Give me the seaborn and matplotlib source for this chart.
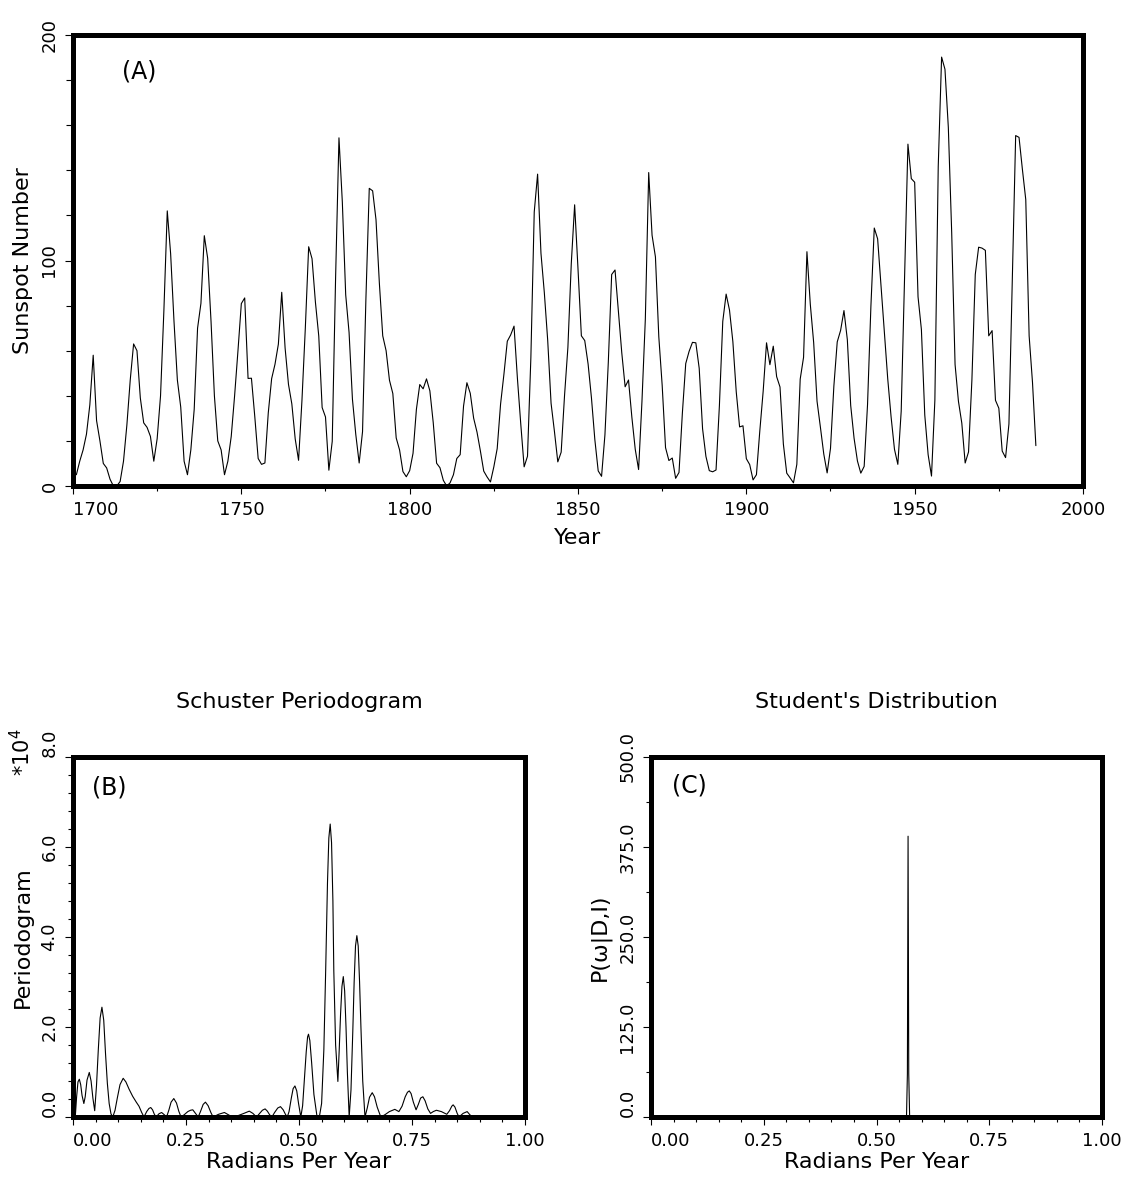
import numpy as np
import pandas as pd
import matplotlib
matplotlib.use('Agg')
import matplotlib.pyplot as plt
import seaborn as sns
from matplotlib.ticker import MultipleLocator, FormatStrFormatter


# (A) yearly sunspot numbers, as drawn (first point sits at 1701, last at 1986)
FIRST_YEAR = 1701
sunspot_number = [
    5, 11, 16, 23, 36, 58, 29, 20, 10, 8,
    3, 0, 0, 2, 11, 27, 47, 63, 60, 39,
    28, 26, 22, 11, 21, 40, 78, 122, 103, 73,
    47, 35, 11, 5, 16, 34, 70, 81, 111, 101,
    73, 40, 20, 16, 5, 11, 22, 40, 60, 80.9,
    83.4, 47.7, 47.8, 30.7, 12.2, 9.6, 10.2, 32.4, 47.6, 54,
    62.9, 85.9, 61.2, 45.1, 36.4, 20.9, 11.4, 37.8, 69.8, 106.1,
    100.8, 81.6, 66.5, 34.8, 30.6, 7, 19.8, 92.5, 154.4, 125.9,
    84.8, 68.1, 38.5, 22.8, 10.2, 24.1, 82.9, 132, 130.9, 118.1,
    89.9, 66.6, 60, 46.9, 41, 21.3, 16, 6.4, 4.1, 6.8,
    14.5, 34, 45, 43.1, 47.5, 42.2, 28.1, 10.1, 8.1, 2.5,
    0, 1.4, 5, 12.2, 13.9, 35.4, 45.8, 41.1, 30.1, 23.9,
    15.6, 6.6, 4, 1.8, 8.5, 16.6, 36.3, 49.6, 64.2, 67,
    70.9, 47.8, 27.5, 8.5, 13.2, 56.9, 121.5, 138.3, 103.2, 85.7,
    64.6, 36.7, 24.2, 10.7, 15, 40.1, 61.5, 98.5, 124.7, 96.3,
    66.6, 64.5, 54.1, 39, 20.6, 6.7, 4.3, 22.7, 54.8, 93.8,
    95.8, 77.2, 59.1, 44, 47, 30.5, 16.3, 7.3, 37.6, 74,
    139, 111.2, 101.6, 66.2, 44.7, 17, 11.3, 12.4, 3.4, 6,
    32.3, 54.3, 59.7, 63.7, 63.5, 52.2, 25.4, 13.1, 6.8, 6.3,
    7.1, 35.6, 73, 85.1, 78, 64, 41.8, 26.2, 26.7, 12.1,
    9.5, 2.7, 5, 24.4, 42, 63.5, 53.8, 62, 48.5, 43.9,
    18.6, 5.7, 3.6, 1.4, 9.6, 47.4, 57.1, 103.9, 80.6, 63.6,
    37.6, 26.1, 14.2, 5.8, 16.7, 44.3, 63.9, 69, 77.8, 64.9,
    35.7, 21.2, 11.1, 5.7, 8.7, 36.1, 79.7, 114.4, 109.6, 88.8,
    67.8, 47.5, 30.6, 16.3, 9.6, 33.2, 92.6, 151.6, 136.3, 134.7,
    83.9, 69.4, 31.5, 13.9, 4.4, 38, 141.7, 190.2, 184.8, 159,
    112.3, 53.9, 37.6, 27.9, 10.2, 15.1, 47, 93.8, 105.9, 105.5,
    104.5, 66.6, 68.9, 38, 34.5, 15.5, 12.6, 27.5, 92.5, 155.4,
    154.6, 140.4, 127, 66.6, 45.9, 17.9,
]
sunspot_year = np.arange(FIRST_YEAR, FIRST_YEAR + len(sunspot_number))

# (B) Schuster periodogram (units of 1e4)
period_freq = [
    0.005, 0.008, 0.011, 0.014, 0.017, 0.020, 0.024, 0.027, 0.031, 0.036,
    0.040, 0.044, 0.048, 0.052, 0.056, 0.060, 0.064, 0.068, 0.072, 0.076,
    0.080, 0.084, 0.088, 0.093, 0.098, 0.104, 0.111, 0.117, 0.124, 0.132,
    0.140, 0.146, 0.152, 0.157, 0.163, 0.168, 0.172, 0.176, 0.180, 0.184,
    0.190, 0.196, 0.202, 0.207, 0.212, 0.217, 0.223, 0.229, 0.234, 0.239,
    0.246, 0.254, 0.260, 0.265, 0.271, 0.277, 0.282, 0.288, 0.293, 0.299,
    0.305, 0.310, 0.322, 0.335, 0.349, 0.365, 0.378, 0.390, 0.398, 0.406,
    0.413, 0.419, 0.425, 0.430, 0.435, 0.440, 0.446, 0.453, 0.459, 0.465,
    0.470, 0.474, 0.478, 0.483, 0.487, 0.491, 0.495, 0.499, 0.504, 0.508,
    0.512, 0.516, 0.519, 0.521, 0.524, 0.528, 0.533, 0.540, 0.545, 0.550,
    0.555, 0.559, 0.563, 0.566, 0.569, 0.572, 0.575, 0.577, 0.581, 0.586,
    0.589, 0.592, 0.595, 0.598, 0.601, 0.604, 0.607, 0.611, 0.615, 0.619,
    0.622, 0.625, 0.628, 0.631, 0.634, 0.637, 0.641, 0.646, 0.651, 0.656,
    0.662, 0.667, 0.673, 0.681, 0.690, 0.700, 0.712, 0.721, 0.728, 0.735,
    0.740, 0.744, 0.748, 0.753, 0.759, 0.764, 0.769, 0.774, 0.779, 0.785,
    0.791, 0.797, 0.804, 0.815, 0.827, 0.833, 0.838, 0.841, 0.845, 0.850,
    0.854, 0.863, 0.872, 0.878, 0.884, 0.900, 0.910, 0.925, 0.950,
]
period_power = [
    0.00, 0.45, 0.78, 0.84, 0.72, 0.48, 0.30, 0.45, 0.82, 0.99,
    0.80, 0.42, 0.14, 0.70, 1.50, 2.20, 2.44, 2.15, 1.40, 0.75,
    0.30, 0.07, 0.00, 0.15, 0.42, 0.72, 0.86, 0.78, 0.62, 0.46,
    0.33, 0.24, 0.10, 0.00, 0.12, 0.19, 0.21, 0.16, 0.06, 0.00,
    0.07, 0.10, 0.05, 0.00, 0.15, 0.33, 0.41, 0.31, 0.13, 0.00,
    0.05, 0.12, 0.15, 0.16, 0.08, 0.00, 0.12, 0.28, 0.33, 0.25,
    0.10, 0.00, 0.06, 0.10, 0.02, 0.03, 0.08, 0.13, 0.08, 0.00,
    0.08, 0.15, 0.18, 0.13, 0.05, 0.00, 0.10, 0.20, 0.23, 0.16,
    0.06, 0.00, 0.12, 0.42, 0.63, 0.69, 0.58, 0.30, 0.00, 0.25,
    0.85, 1.45, 1.78, 1.84, 1.70, 1.20, 0.50, 0.00, 0.00, 0.30,
    1.50, 3.25, 5.20, 6.20, 6.51, 6.10, 4.80, 3.25, 1.60, 0.79,
    1.50, 2.30, 2.90, 3.12, 2.80, 2.00, 1.00, 0.00, 0.60, 1.90,
    3.00, 3.80, 4.03, 3.80, 3.00, 2.00, 0.80, 0.00, 0.20, 0.44,
    0.54, 0.45, 0.22, 0.00, 0.05, 0.12, 0.17, 0.12, 0.24, 0.45,
    0.55, 0.58, 0.52, 0.33, 0.16, 0.28, 0.42, 0.45, 0.36, 0.18,
    0.08, 0.12, 0.15, 0.12, 0.06, 0.14, 0.24, 0.27, 0.22, 0.08,
    0.00, 0.08, 0.12, 0.05, 0.00, 0.02, 0.03, 0.00, 0.00,
]

# (C) Student's t posterior: one narrow spike near 0.57 rad/yr
student_freq = [0.0, 0.5665, 0.5685, 0.5700, 0.5715, 0.5735, 1.0]
student_prob = [0.0, 0.0, 60.0, 390.0, 60.0, 0.0, 0.0]


sns.set_theme(style='ticks')
plt.rcParams['font.family'] = ['DejaVu Sans']
for key in ['text.color', 'axes.labelcolor', 'xtick.color', 'ytick.color']:
    plt.rcParams[key] = 'black'

W, H = 1134, 1182
fig = plt.figure(figsize=(W / 100, H / 100), dpi=100)
ax_a = fig.add_axes([73 / W, 1 - 486 / H, 1010 / W, 451 / H])
ax_b = fig.add_axes([73 / W, 1 - 1117 / H, 452 / W, 360 / H])
ax_c = fig.add_axes([651 / W, 1 - 1117 / H, 451 / W, 360 / H])


def style_frame(ax):
    for s in ax.spines.values():
        s.set_visible(True)
        s.set_linewidth(3.6)
        s.set_color('black')
    ax.tick_params(which='both', direction='out', color='black', width=0.8,
                   top=False, right=False, bottom=True, left=True)
    ax.tick_params(which='major', length=5.5, labelsize=13, pad=5,
                   labelcolor='black')
    ax.tick_params(which='minor', length=3.5)
    ax.tick_params(axis='y', which='both', labelrotation=90)


# ---- (A) sunspot series
df_a = pd.DataFrame({'year': sunspot_year, 'ssn': sunspot_number})
sns.lineplot(data=df_a, x='year', y='ssn', ax=ax_a, color='black',
             linewidth=0.8, estimator=None, sort=False)
ax_a.set_xlim(1700, 2000)
ax_a.set_ylim(0, 200)
ax_a.xaxis.set_major_locator(MultipleLocator(50))
ax_a.xaxis.set_minor_locator(MultipleLocator(25))
ax_a.yaxis.set_major_locator(MultipleLocator(100))
ax_a.yaxis.set_minor_locator(MultipleLocator(20))
style_frame(ax_a)
ax_a.tick_params(axis='y', which='minor', length=5)
ax_a.set_xlabel('Year', fontsize=16)
ax_a.set_ylabel('Sunspot Number', fontsize=16)
ax_a.xaxis.set_label_coords(0.5, -0.093)
ax_a.yaxis.set_label_coords(-0.040, 0.5)
ax_a.text(0.049, 0.945, '(A)', transform=ax_a.transAxes, fontsize=17,
          ha='left', va='top')

# ---- (B) periodogram
df_b = pd.DataFrame({'w': period_freq, 'p': period_power})
sns.lineplot(data=df_b, x='w', y='p', ax=ax_b, color='black',
             linewidth=0.8, estimator=None, sort=False)
ax_b.set_xlim(0, 1)
ax_b.set_ylim(0, 8)
ax_b.xaxis.set_major_locator(MultipleLocator(0.25))
ax_b.xaxis.set_minor_locator(MultipleLocator(0.05))
ax_b.yaxis.set_major_locator(MultipleLocator(2))
ax_b.yaxis.set_minor_locator(MultipleLocator(0.4))
ax_b.xaxis.set_major_formatter(FormatStrFormatter('%.2f'))
ax_b.yaxis.set_major_formatter(FormatStrFormatter('%.1f'))
style_frame(ax_b)
ax_b.set_title('Schuster Periodogram', fontsize=16, pad=35)
ax_b.set_xlabel('Radians Per Year', fontsize=16)
ax_b.set_ylabel('Periodogram', fontsize=16)
ax_b.xaxis.set_label_coords(0.5, -0.098)
ax_b.yaxis.set_label_coords(-0.0885, 0.5)
ax_b.text(-0.113, 1.014, r'*10$^{4}$', transform=ax_b.transAxes,
          fontsize=15, rotation=90, ha='center', va='center')
ax_b.text(0.042, 0.95, '(B)', transform=ax_b.transAxes, fontsize=17,
          ha='left', va='top')

# ---- (C) student's t distribution
df_c = pd.DataFrame({'w': student_freq, 'p': student_prob})
sns.lineplot(data=df_c, x='w', y='p', ax=ax_c, color='black',
             linewidth=0.8, estimator=None, sort=False)
ax_c.set_xlim(0, 1)
ax_c.set_ylim(0, 500)
ax_c.xaxis.set_major_locator(MultipleLocator(0.25))
ax_c.xaxis.set_minor_locator(MultipleLocator(0.05))
ax_c.yaxis.set_major_locator(MultipleLocator(125))
ax_c.yaxis.set_minor_locator(MultipleLocator(62.5))
ax_c.xaxis.set_major_formatter(FormatStrFormatter('%.2f'))
ax_c.yaxis.set_major_formatter(FormatStrFormatter('%.1f'))
style_frame(ax_c)
ax_c.set_title("Student's Distribution", fontsize=16, pad=35)
ax_c.set_xlabel('Radians Per Year', fontsize=16)
ax_c.set_ylabel('P(ω|D,I)', fontsize=16)
ax_c.xaxis.set_label_coords(0.5, -0.098)
ax_c.yaxis.set_label_coords(-0.09, 0.5)
ax_c.text(0.047, 0.955, '(C)', transform=ax_c.transAxes, fontsize=17,
          ha='left', va='top')

# tick-label alignment tweaks need the label texts, so draw once first
fig.canvas.draw()
for ax, first_x in [(ax_a, '1700'), (ax_b, '0.00'), (ax_c, '0.00')]:
    for lab in ax.get_xticklabels():
        if lab.get_text() == first_x:
            lab.set_ha('left')
    for lab in ax.get_yticklabels():
        lab.set_va('center')
for ax, low_y in [(ax_b, ['0.0', '8.0']), (ax_c, ['0.0'])]:
    for lab in ax.get_yticklabels():
        if lab.get_text() in low_y:
            lab.set_va('bottom')

fig.savefig('out.png', dpi=100)
plt.close(fig)
